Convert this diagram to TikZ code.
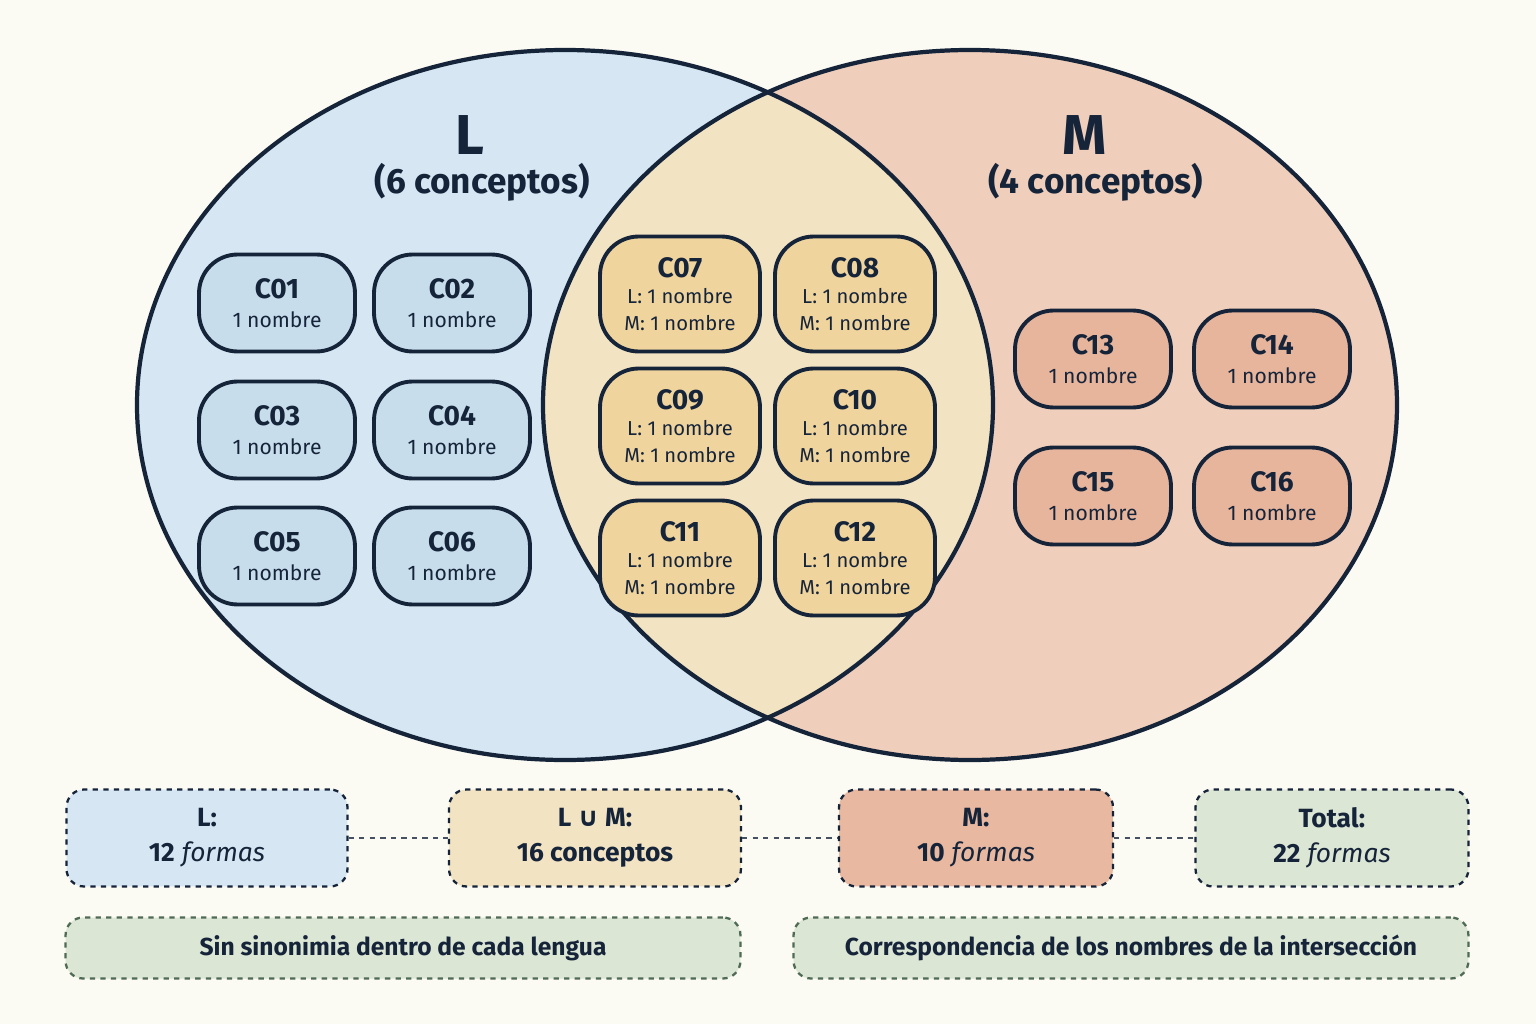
\documentclass[tikz,border=0pt]{standalone}
\usepackage{fontspec}
\setmainfont{Fira Sans}
\newfontfamily\symfont{DejaVu Sans}
\usetikzlibrary{positioning}
\definecolor{bgc}{HTML}{FBFAF3}
\definecolor{ink}{HTML}{16243A}
\definecolor{lfill}{HTML}{D6E7F3}
\definecolor{lbox}{HTML}{C7DDEC}
\definecolor{mfill}{HTML}{EFCFBB}
\definecolor{mbox}{HTML}{E7B49C}
\definecolor{ifill}{HTML}{F2E3C3}
\definecolor{ibox}{HTML}{F0D49D}
\definecolor{gfill}{HTML}{DCE6D5}
\definecolor{gline}{HTML}{4F6A55}
\tikzset{
  concept/.style={draw=ink,line width=2.2pt,rounded corners=22pt,minimum width=3.12cm,minimum height=1.94cm,align=center,font=\fontsize{12}{16.5}\selectfont,text=ink},
  both/.style={concept,minimum width=3.2cm,minimum height=2.3cm,fill=ibox,font=\fontsize{11.5}{15}\selectfont},
  summary/.style={draw=ink,dashed,line width=1.3pt,rounded corners=10pt,minimum height=1.94cm,align=center,font=\fontsize{15}{20}\selectfont,text=ink},
  note/.style={draw=gline,dashed,line width=1.3pt,rounded corners=10pt,fill=gfill,minimum width=13.5cm,minimum height=1.22cm,font=\fontsize{14}{17}\selectfont,text=ink},
  link/.style={draw=ink!80,dashed,line width=1.2pt}
}
\newcommand{\cbox}[1]{{\fontsize{16}{20}\selectfont\bfseries #1}}
\begin{document}
\begin{tikzpicture}[x=0.02cm,y=-0.02cm]
  \fill[bgc] (0,0) rectangle (1536,1024);
  \useasboundingbox (0,0) rectangle (1536,1024);

  % the two sets
  \fill[lfill] (565,405) ellipse [x radius=428,y radius=355];
  \fill[mfill] (970,405) ellipse [x radius=427,y radius=355];
  \begin{scope}
    \clip (565,405) ellipse [x radius=428,y radius=355];
    \fill[ifill] (970,405) ellipse [x radius=427,y radius=355];
  \end{scope}
  \draw[ink,line width=2.4pt] (565,405) ellipse [x radius=428,y radius=355];
  \draw[ink,line width=2.4pt] (970,405) ellipse [x radius=427,y radius=355];

  \node[text=ink,font=\fontsize{32}{36}\selectfont\bfseries] (ltitle) at (470,135) {L};
  \node[text=ink,font=\fontsize{20}{24}\selectfont\bfseries] (lcount) at (482,182) {(6 conceptos)};
  \node[text=ink,font=\fontsize{32}{36}\selectfont\bfseries] (mtitle) at (1085,135) {M};
  \node[text=ink,font=\fontsize{20}{24}\selectfont\bfseries] (mcount) at (1096,182) {(4 conceptos)};

  % only in L
  \node[concept,fill=lbox] (c01) at (277,303) {\cbox{C01}\\1 nombre};
  \node[concept,fill=lbox] (c02) at (452,303) {\cbox{C02}\\1 nombre};
  \node[concept,fill=lbox] (c03) at (277,430) {\cbox{C03}\\1 nombre};
  \node[concept,fill=lbox] (c04) at (452,430) {\cbox{C04}\\1 nombre};
  \node[concept,fill=lbox] (c05) at (277,556) {\cbox{C05}\\1 nombre};
  \node[concept,fill=lbox] (c06) at (452,556) {\cbox{C06}\\1 nombre};

  % in both
  \node[both] (c07) at (680,294) {\cbox{C07}\\L: 1 nombre\\M: 1 nombre};
  \node[both] (c08) at (855,294) {\cbox{C08}\\L: 1 nombre\\M: 1 nombre};
  \node[both] (c09) at (680,426) {\cbox{C09}\\L: 1 nombre\\M: 1 nombre};
  \node[both] (c10) at (855,426) {\cbox{C10}\\L: 1 nombre\\M: 1 nombre};
  \node[both] (c11) at (680,558) {\cbox{C11}\\L: 1 nombre\\M: 1 nombre};
  \node[both] (c12) at (855,558) {\cbox{C12}\\L: 1 nombre\\M: 1 nombre};

  % only in M
  \node[concept,fill=mbox] (c13) at (1093,359) {\cbox{C13}\\1 nombre};
  \node[concept,fill=mbox] (c14) at (1272,359) {\cbox{C14}\\1 nombre};
  \node[concept,fill=mbox] (c15) at (1093,496) {\cbox{C15}\\1 nombre};
  \node[concept,fill=mbox] (c16) at (1272,496) {\cbox{C16}\\1 nombre};

  % totals
  \node[summary,fill=lfill,minimum width=5.62cm] (sl) at (207,838) {\textbf{L:}\\\textbf{12} \textit{formas}};
  \node[summary,fill=ifill,minimum width=5.84cm] (slm) at (595,838) {\textbf{L {\symfont ∪} M:}\\\textbf{16 conceptos}};
  \node[summary,fill=mbox!85!mfill,minimum width=5.48cm] (sm) at (976,838) {\textbf{M:}\\\textbf{10} \textit{formas}};
  \node[summary,fill=gfill,minimum width=5.46cm] (st) at (1332,838) {\textbf{Total:}\\\textbf{22} \textit{formas}};
  \draw[link] (sl) -- (slm);
  \draw[link] (slm) -- (sm);
  \draw[link] (sm) -- (st);

  \node[note] (n1) at (403,948) {\textbf{Sin sinonimia dentro de cada lengua}};
  \node[note] (n2) at (1131,948) {\textbf{Correspondencia de los nombres de la intersección}};
\end{tikzpicture}
\end{document}
